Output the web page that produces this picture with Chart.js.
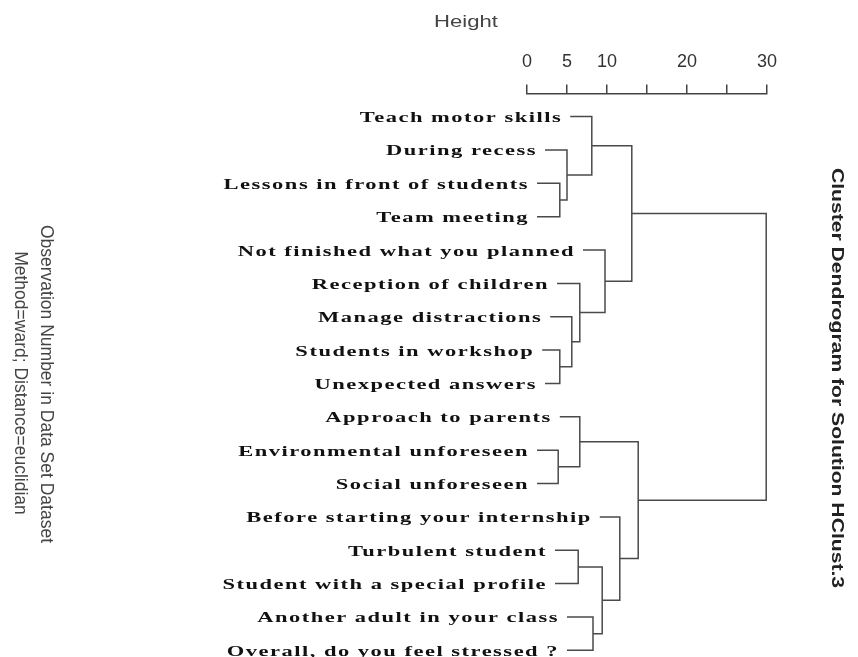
<!DOCTYPE html>
<html>
<head>
<meta charset="utf-8">
<script src="https://cdn.jsdelivr.net/npm/chart.js@4"></script>
<style>
body{margin:0;background:#fff}
canvas{display:block}
</style>
</head>
<body>
<canvas id="dendro" width="858" height="657"></canvas>
<script>

let leafLabels = [
    "Teach motor skills",
    "During recess",
    "Lessons in front of students",
    "Team meeting",
    "Not finished what you planned",
    "Reception of children",
    "Manage distractions",
    "Students in workshop",
    "Unexpected answers",
    "Approach to parents",
    "Environmental unforeseen",
    "Social unforeseen",
    "Before starting your internship",
    "Turbulent student",
    "Student with a special profile",
    "Another adult in your class",
    "Overall, do you feel stressed ?"
]

// height at which each leaf line starts
let leafStart = [5.4, 2.25, 1.25, 1.25, 7.0, 3.75, 2.9, 1.9, 2.25, 4.1, 1.25, 1.25, 9.1, 3.5, 3.5, 5.0, 5.0]

// merge steps: negative = leaf -(i+1), positive = earlier step (1-based)
let mergeLeft   = [-3, -2, -1, -8, -7, -6, -5, 3, -11, -10, -14, -16, 11, -13, 10, 8]
let mergeRight  = [-4,  1,  2, -9,  4,  5,  6, 7, -12,   9, -15, -17, 12,  13, 14, 15]
let mergeHeight = [4.1, 5.0, 8.1, 4.1, 5.6, 6.6, 9.75, 13.1, 3.9, 6.6, 6.4, 8.25, 9.4, 11.6, 13.9, 29.9]

let heightTicks = [0, 5, 10, 20, 30]

let nodeY = []

function childPos(c){

    if(c < 0){
        return { x: leafStart[-c - 1], y: -c - 1 }
    }

    return { x: mergeHeight[c - 1], y: nodeY[c - 1] }
}

let segments = []

mergeHeight.forEach((h, m) => {

    let a = childPos(mergeLeft[m])
    let b = childPos(mergeRight[m])

    nodeY[m] = (a.y + b.y) / 2

    segments.push({
        data: [
            { x: a.x, y: a.y },
            { x: h, y: a.y },
            { x: h, y: b.y },
            { x: b.x, y: b.y }
        ],
        showLine: true,
        borderColor: '#4a4a4a',
        borderWidth: 1.5,
        pointRadius: 0,
        fill: false,
        tension: 0
    })
})

let textPlugin = {
    id: 'dendroText',
    afterDraw(chart){

        let ctx = chart.ctx
        let xs = chart.scales.x
        let ys = chart.scales.y

        ctx.save()

        // leaf labels
        ctx.fillStyle = '#111'
        ctx.font = 'bold 15px "Liberation Serif"'
        ctx.letterSpacing = '1px'
        ctx.textAlign = 'right'
        ctx.textBaseline = 'alphabetic'

        leafLabels.forEach((lab, i) => {
            ctx.save()
            ctx.translate(
                xs.getPixelForValue(leafStart[i]) - 8,
                ys.getPixelForValue(i) + 5.5
            )
            ctx.scale(1.5, 1)
            ctx.fillText(lab, 0, 0)
            ctx.restore()
        })

        ctx.letterSpacing = '0px'

        // axis title
        ctx.fillStyle = '#444'
        ctx.font = '17px "Liberation Sans"'
        ctx.textAlign = 'left'
        ctx.save()
        ctx.translate(434, 27)
        ctx.scale(1.3, 1)
        ctx.fillText('Height', 0, 0)
        ctx.restore()

        // left notes
        ctx.fillStyle = '#444'
        ctx.font = '17.5px "Liberation Sans"'
        ctx.textAlign = 'center'

        ctx.save()
        ctx.translate(41, 384)
        ctx.rotate(Math.PI / 2)
        ctx.fillText('Observation Number in Data Set Dataset', 0, 0)
        ctx.restore()

        ctx.save()
        ctx.translate(15, 383)
        ctx.rotate(Math.PI / 2)
        ctx.fillText('Method=ward; Distance=euclidian', 0, 0)
        ctx.restore()

        // right title
        ctx.fillStyle = '#222'
        ctx.font = 'bold 16.5px "Liberation Sans"'
        ctx.save()
        ctx.translate(832, 378)
        ctx.scale(1, 1.28)
        ctx.rotate(Math.PI / 2)
        ctx.fillText('Cluster Dendrogram for Solution HClust.3', 0, 0)
        ctx.restore()

        ctx.restore()
    }
}

new Chart(
    document.getElementById('dendro'),
    {
        type: 'scatter',
        data: { datasets: segments },
        options: {
            responsive: false,
            animation: false,
            layout: {
                padding: { left: 527, right: 91, top: 39, bottom: 0 }
            },
            plugins: {
                legend: { display: false },
                tooltip: { enabled: false }
            },
            scales: {
                x: {
                    type: 'linear',
                    position: 'top',
                    min: 0,
                    max: 30,
                    ticks: {
                        stepSize: 5,
                        autoSkip: false,
                        maxRotation: 0,
                        padding: 12,
                        color: '#333',
                        font: { family: '"Liberation Sans"', size: 18 },
                        callback: v => heightTicks.includes(v) ? String(v) : ''
                    },
                    grid: {
                        drawOnChartArea: false,
                        drawTicks: true,
                        tickLength: 9,
                        color: '#444',
                        lineWidth: 1.5
                    },
                    border: { display: true, color: '#444', width: 1.5 }
                },
                y: {
                    type: 'linear',
                    display: false,
                    reverse: true,
                    min: -0.69,
                    max: 16.2
                }
            }
        },
        plugins: [textPlugin]
    }
)

</script>
</body>
</html>
